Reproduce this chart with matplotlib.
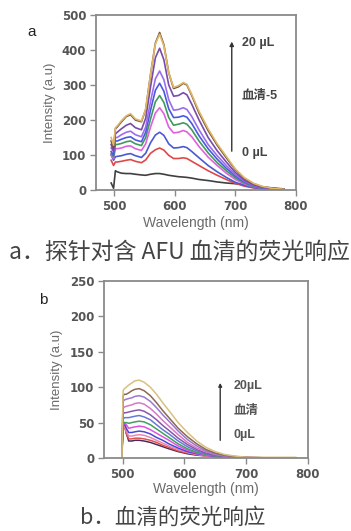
import matplotlib
matplotlib.use("Agg")
import matplotlib.pyplot as plt

plt.rcParams['font.family'] = ['Liberation Sans', 'Noto Sans CJK SC', 'DejaVu Sans']

# ---- panel a: probe + AFU serum, 0 -> 20 uL ----
wl_a = [495, 499, 502, 505, 512, 520, 527, 535, 545, 552, 560, 568, 575, 582, 590,
        598, 606, 614, 620, 628, 640, 655, 670, 685, 700, 715, 730, 745, 760, 780]

a_black = [20, 5, 55, 52, 48, 47, 47, 45, 43, 42, 45, 47, 47, 45, 42,
           40, 38, 37, 36, 34, 30, 27, 23, 20, 18, 15, 12, 9, 6, 3]
a_red = [85, 70, 80, 80, 82, 85, 87, 82, 78, 86, 105, 115, 120, 114, 99,
         90, 90, 92, 90, 82, 70, 55, 42, 30, 19, 11, 6, 3, 2, 1]
a_blue1 = [100, 85, 95, 96, 98, 102, 104, 98, 93, 105, 135, 157, 165, 156, 132,
           120, 121, 124, 121, 110, 92, 70, 52, 36, 22, 13, 7, 4, 2, 1]
a_magenta = [100, 90, 118, 118, 120, 125, 126, 118, 113, 132, 180, 220, 235, 218, 180,
             163, 165, 170, 166, 152, 124, 94, 70, 48, 30, 17, 9, 5, 2, 1]
a_green = [105, 95, 130, 130, 133, 138, 140, 132, 127, 150, 203, 252, 270, 250, 207,
           185, 188, 192, 188, 172, 140, 106, 78, 55, 35, 20, 10, 5, 3, 1]
a_blue2 = [110, 100, 140, 140, 145, 150, 152, 143, 138, 165, 228, 285, 305, 282, 232,
           207, 208, 212, 208, 190, 155, 118, 88, 62, 40, 23, 12, 6, 3, 1]
a_violet = [120, 110, 150, 150, 158, 165, 168, 158, 152, 180, 253, 318, 340, 315, 258,
            228, 230, 235, 230, 210, 172, 130, 98, 70, 44, 25, 13, 7, 3, 1]
a_purple = [130, 110, 160, 165, 175, 185, 190, 178, 172, 205, 295, 378, 405, 372, 300,
            268, 270, 278, 272, 245, 200, 150, 112, 80, 50, 28, 15, 8, 4, 2]
a_brown = [140, 120, 175, 180, 195, 210, 215, 200, 195, 230, 330, 420, 450, 415, 335,
           290, 295, 305, 300, 270, 220, 170, 128, 92, 58, 33, 18, 9, 5, 2]
a_orange = [150, 128, 178, 183, 198, 212, 218, 203, 197, 232, 330, 418, 445, 412, 335,
            293, 298, 307, 302, 273, 225, 175, 132, 96, 60, 35, 19, 10, 5, 2]

series_a = [a_black, a_red, a_blue1, a_magenta, a_green, a_blue2, a_violet, a_purple, a_brown, a_orange]
colors_a = ['#404040', '#e04848', '#4a5ad0', '#e060e0', '#3f9a5c', '#4a58e0', '#9a6cf0',
            '#7a4aa8', '#6e5040', '#e0b868']

# ---- panel b: serum only, 0 -> 20 uL ----
wl_b = [499, 500, 501, 503, 506, 510, 515, 520, 527, 535, 545, 555, 565, 575, 590,
        605, 620, 635, 650, 665, 680, 700, 740, 780]

b_c12 = [5, 30, 45, 50, 35, 24, 24, 25, 25, 24, 22, 19, 16, 13, 9, 6, 4, 3, 2, 1, 1, 0, 0, 0]
b_c11 = [3, 25, 40, 45, 35, 27, 27, 28, 28, 27, 25, 22, 18, 15, 10, 7, 5, 3, 2, 1, 1, 0, 0, 0]
b_c10 = [5, 28, 42, 46, 38, 31, 31, 32, 33, 32, 29, 25, 21, 17, 12, 8, 5, 3, 2, 1, 1, 0, 0, 0]
b_c9 = [8, 32, 45, 48, 42, 36, 36, 37, 38, 37, 34, 29, 25, 20, 14, 9, 6, 4, 2, 1, 1, 0, 0, 0]
b_c8 = [5, 30, 45, 50, 47, 42, 43, 44, 45, 44, 40, 35, 30, 25, 17, 11, 7, 4, 3, 2, 1, 0, 0, 0]
b_c7 = [0, 30, 48, 50, 50, 49, 50, 51, 52, 51, 47, 41, 35, 29, 20, 13, 8, 5, 3, 2, 1, 0, 0, 0]
b_c6 = [0, 35, 55, 57, 57, 57, 58, 59, 60, 58, 54, 47, 40, 34, 24, 16, 10, 6, 4, 2, 1, 0, 0, 0]
b_c5 = [0, 38, 62, 64, 64, 65, 66, 67, 68, 66, 61, 54, 46, 39, 28, 19, 12, 7, 4, 2, 1, 0, 0, 0]
b_c4 = [0, 42, 70, 72, 73, 74, 75, 77, 78, 76, 70, 62, 53, 45, 33, 22, 14, 9, 5, 3, 2, 1, 0, 0]
b_c3 = [0, 48, 80, 82, 83, 84, 85, 87, 88, 86, 80, 71, 61, 52, 38, 26, 17, 10, 6, 3, 2, 1, 0, 0]
b_c2 = [0, 50, 88, 90, 90, 92, 95, 97, 98, 95, 88, 78, 67, 57, 42, 30, 20, 12, 7, 4, 2, 1, 0, 0]
b_c1 = [0, 60, 95, 98, 100, 103, 106, 109, 110, 107, 100, 90, 78, 67, 50, 36, 24, 15, 9, 5, 3, 1, 1, 1]

series_b = [b_c12, b_c11, b_c10, b_c9, b_c8, b_c7, b_c6, b_c5, b_c4, b_c3, b_c2, b_c1]
colors_b = ['#4b2a5a', '#e05050', '#e888b0', '#4848d8', '#e050e0', '#40a060', '#6878d8',
            '#8858a8', '#d878c8', '#9a78d0', '#8b6a50', '#d8c080']

W, H = 351, 531
CJK = ['Noto Sans CJK SC', 'DejaVu Sans']
LABEL_FONT = ['Liberation Sans', 'Noto Sans CJK SC', 'DejaVu Sans']


def px_axes(fig, left, top, right, bottom):
    return fig.add_axes([left / W, 1 - bottom / H, (right - left) / W, (bottom - top) / H])


def style_axes(ax, ymax, ystep, xlab_pad):
    for s in ax.spines.values():
        s.set_color('#8a8a8a')
        s.set_linewidth(1.3)
    ax.set_xlim(470, 800)
    ax.set_ylim(0, ymax)
    ax.set_xticks([500, 600, 700, 800])
    ax.set_yticks(range(0, ymax + 1, ystep))
    ax.tick_params(direction='out', length=4, width=1, color='#8a8a8a', pad=3)
    for lab in ax.get_xticklabels() + ax.get_yticklabels():
        lab.set_family('DejaVu Sans')
        lab.set_fontsize(8.5)
        lab.set_fontweight('bold')
        lab.set_color('#555555')
    ax.set_xlabel("Wavelength (nm)", fontsize=10, color='#6a6a6a', labelpad=xlab_pad)
    ax.set_ylabel("Intensity (a.u)", fontsize=9.5, color='#6a6a6a')
    ax.yaxis.set_label_coords(-0.2, 0.5)


fig = plt.figure(figsize=(W / 100, H / 100), dpi=100)

# panel a
ax_a = px_axes(fig, 96, 15, 296, 190)
for ys, c in zip(series_a, colors_a):
    ax_a.plot(wl_a, ys, color=c, lw=1.2)
style_axes(ax_a, 500, 100, 2)
ax_a.annotate("", xy=(694, 432), xytext=(694, 103),
              arrowprops=dict(arrowstyle='-|>', lw=1, color='#333333', mutation_scale=6))
for txt, yv in [("20 µL", 420), ("血清-5", 269), ("0 µL", 106)]:
    ax_a.text(711, yv, txt, fontsize=9, fontweight='bold', color='#444444', va='center',
              family=LABEL_FONT)
fig.text(32 / W, 1 - 32 / H, "a", fontsize=11, color='#222222', ha='center', va='center')
fig.text(179 / W, 1 - 252 / H, "a．探针对含 AFU 血清的荧光响应", fontsize=16.5,
         family=CJK, color='#444444', ha='center', va='center')

# panel b
ax_b = px_axes(fig, 104, 281, 308, 458)
for ys, c in zip(series_b, colors_b):
    ax_b.plot(wl_b, ys, color=c, lw=1.1)
style_axes(ax_b, 250, 50, 1)
ax_b.annotate("", xy=(658, 110), xytext=(658, 21),
              arrowprops=dict(arrowstyle='-|>', lw=1, color='#333333', mutation_scale=5))
for txt, yv in [("20µL", 102), ("血清", 67), ("0µL", 32)]:
    ax_b.text(679, yv, txt, fontsize=9, fontweight='bold', color='#555555', va='center',
              family=LABEL_FONT)
fig.text(43 / W, 1 - 300 / H, "b", fontsize=11, color='#222222', ha='center', va='center')
fig.text(173 / W, 1 - 518 / H, "b．血清的荧光响应", fontsize=15.5,
         family=CJK, color='#444444', ha='center', va='center')

fig.savefig("out.png", dpi=100, facecolor='white')
